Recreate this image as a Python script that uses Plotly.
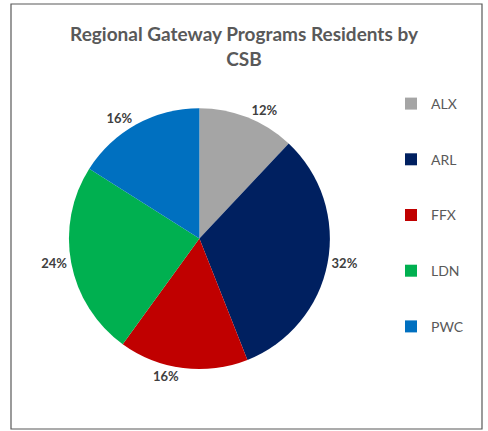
import plotly.graph_objects as go

labels = ["ALX", "ARL", "FFX", "LDN", "PWC"]
values = [12, 32, 16, 24, 16]
colors = ["#A5A5A5", "#002060", "#C00000", "#00B050", "#0070C0"]

W, H = 488, 431
ml, mr, mt, mb = 11, 6, 4, 2

fig = go.Figure()
fig.add_trace(go.Pie(
    labels=labels, values=values, sort=False, direction="clockwise", rotation=0,
    marker=dict(colors=colors, line=dict(width=0)),
    texttemplate="%{percent:.0%}", textposition="outside",
    textfont=dict(family="Lato", size=13, color="#404040", weight="bold"),
    showlegend=False, hoverinfo="label+percent",
    domain=dict(x=[0.02, 0.78], y=[0.141, 0.755]),
))
for lab, col in zip(labels, colors):
    fig.add_trace(go.Scatter(
        x=[None], y=[None], mode="markers", name=lab, legendgroup=lab,
        marker=dict(symbol="square", size=12, color=col),
    ))

fig.update_layout(
    width=W, height=H,
    margin=dict(l=ml, r=mr, t=mt, b=mb, autoexpand=False),
    paper_bgcolor="white", plot_bgcolor="white",
    xaxis=dict(visible=False), yaxis=dict(visible=False),
    title=dict(text="Regional Gateway Programs Residents by<br>CSB",
               x=0.5, xanchor="center", xref="container",
               y=1 - 41 / H, yanchor="middle", yref="container",
               font=dict(family="Lato", size=19, color="#595959", weight="bold")),
    legend=dict(x=391 / W, y=1 - 88 / H, xanchor="left", yanchor="top",
                xref="container", yref="container", maxheight=400,
                font=dict(family="Lato", size=14, color="#595959"),
                tracegroupgap=34.5, itemwidth=30, bgcolor="rgba(0,0,0,0)"),
    shapes=[dict(type="rect", xref="paper", yref="paper", x0=0, x1=1, y0=0, y1=1,
                 line=dict(color="#595959", width=1.2), fillcolor="rgba(0,0,0,0)")],
)
fig.write_html("out.html", config={"displayModeBar": False},
               post_script="document.body.style.margin='0';")
